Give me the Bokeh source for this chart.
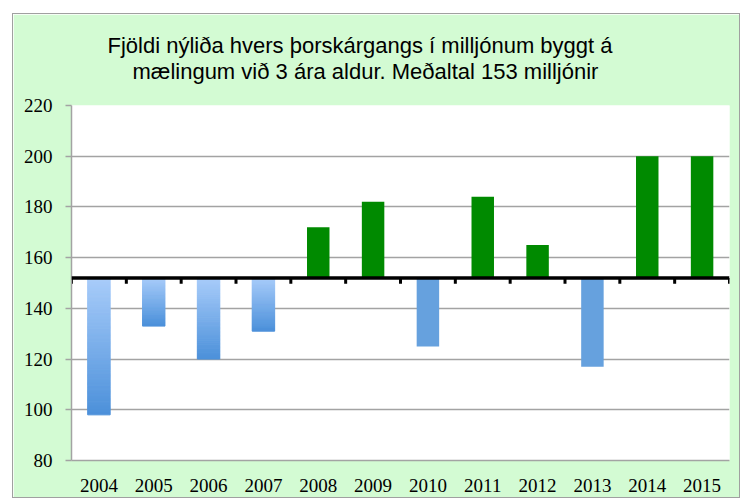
from bokeh.plotting import figure
from bokeh.models import Range1d, FactorRange, FixedTicker, Span, Title
from bokeh.embed import file_html
from bokeh.resources import INLINE

# ---- data ----
years = ["2004", "2005", "2006", "2007", "2008", "2009",
         "2010", "2011", "2012", "2013", "2014", "2015"]
values = [98, 133, 120, 131, 172, 182, 125, 184, 165, 117, 200, 200]
base = 152
gradient_years = ["2004", "2005", "2006", "2007"]
y_ticks = [80, 100, 120, 140, 160, 180, 200, 220]
title_lines = ["Fjöldi nýliða hvers þorskárgangs í milljónum byggt á",
               "mælingum við 3 ára aldur.  Meðaltal 153 milljónir"]

GREEN = "#008A00"
BLUE = "#66A1DE"
LIGHT = (0xA9, 0xCD, 0xFA)
DARK = (0x4C, 0x90, 0xDA)
GRID = "#A3A3A3"
BG = "#D3FBD3"

p = figure(width=728, height=485, x_range=FactorRange(*years),
           y_range=Range1d(80, 220), output_backend="svg",
           toolbar_location=None, min_border_left=58, min_border_right=12,
           min_border_top=91, min_border_bottom=39)
p.styles = {"margin-left": "12px", "margin-top": "13px",
            "border": "1px solid #A0A0A0"}
p.border_fill_color = BG
p.background_fill_color = "white"
p.outline_line_color = None
p.x_range.range_padding = 0
p.x_range.factor_padding = 0

# bars
bw = 0.41
for yr, v in zip(years, values):
    if v >= base:
        p.vbar(x=[yr], top=[v], bottom=[base], width=bw, fill_color=GREEN, line_color=None)
    elif yr in gradient_years:
        n = 60
        xs, tops, bots, cols = [], [], [], []
        for i in range(n):
            t = base + (v - base) * i / n
            b = base + (v - base) * (i + 1) / n
            f = (i + 0.5) / n
            c = tuple(int(round(LIGHT[k] + (DARK[k] - LIGHT[k]) * f)) for k in range(3))
            xs.append(yr); tops.append(t); bots.append(b)
            cols.append("#%02x%02x%02x" % c)
        p.vbar(x=xs, top=tops, bottom=bots, width=bw, fill_color=cols, line_color=cols, line_width=1)
    else:
        p.vbar(x=[yr], top=[base], bottom=[v], width=bw, fill_color=BLUE, line_color=None)

# baseline axis at mean
p.add_layout(Span(location=base, dimension="width", line_color="black", line_width=3.5))
tx = [(yr, -0.5) for yr in years] + [(years[-1], 0.5)]
p.segment(x0=tx, x1=tx, y0=[base] * len(tx), y1=[base - 2.3] * len(tx),
          line_color="black", line_width=3)

# axes
p.yaxis.ticker = FixedTicker(ticks=y_ticks)
p.ygrid.ticker = FixedTicker(ticks=y_ticks)
p.ygrid.grid_line_color = GRID
p.ygrid.grid_line_width = 1.5
p.xgrid.grid_line_color = None
for ax in (p.xaxis[0], p.yaxis[0]):
    ax.axis_line_color = GRID
    ax.axis_line_width = 1.5
    ax.major_label_text_font = "Liberation Serif"
    ax.major_label_text_font_size = "19px"
    ax.major_label_text_color = "black"
    ax.minor_tick_line_color = None
p.yaxis.major_tick_line_color = GRID
p.yaxis.major_tick_line_width = 1.5
p.yaxis.major_tick_out = 6
p.yaxis.major_tick_in = 0
p.yaxis.major_label_standoff = 13
p.xaxis.major_tick_line_color = None
p.xaxis.major_tick_out = 0
p.xaxis.major_tick_in = 0
p.xaxis.major_label_standoff = 18

# title (second line nearest the plot)
for line, off, so in zip(reversed(title_lines), [61, 36], [44, -46]):
    p.add_layout(Title(text=line, align="left", offset=off, standoff=so,
                       text_font="Liberation Sans", text_font_size="22px",
                       text_font_style="normal", text_color="black"), "above")

open("out.html", "w").write(file_html(p, INLINE))
